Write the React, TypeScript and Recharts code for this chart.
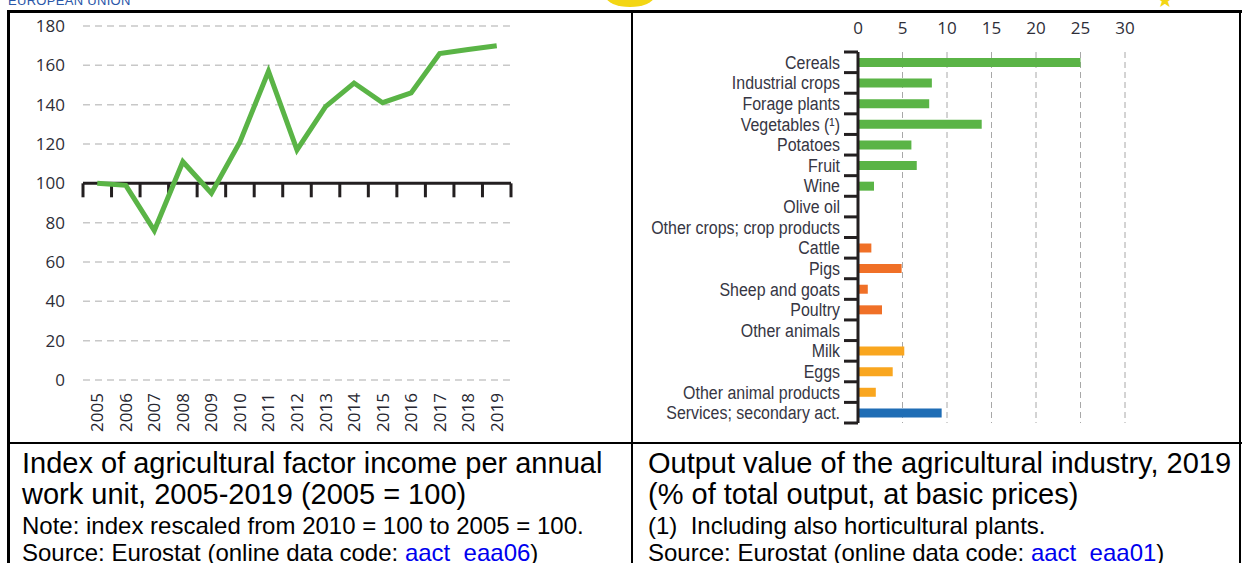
import { LineChart, Line, XAxis, YAxis, CartesianGrid, ReferenceLine, BarChart, Bar, Cell } from 'recharts'

// left chart: index of agricultural factor income (2005 = 100)
const years = [2005, 2006, 2007, 2008, 2009, 2010, 2011, 2012, 2013, 2014, 2015, 2016, 2017, 2018, 2019]
const incomeIndex = [100, 99, 76, 111, 95, 121, 157, 117, 139, 151, 141, 146, 166, 168, 170]
const indexTicks = [0, 20, 40, 60, 80, 100, 120, 140, 160, 180]

// right chart: output value of the agricultural industry, 2019 (% of total)
const products = [
  'Cereals',
  'Industrial crops',
  'Forage plants',
  'Vegetables (¹)',
  'Potatoes',
  'Fruit',
  'Wine',
  'Olive oil',
  'Other crops; crop products',
  'Cattle',
  'Pigs',
  'Sheep and goats',
  'Poultry',
  'Other animals',
  'Milk',
  'Eggs',
  'Other animal products',
  'Services; secondary act.',
]
const shares = [25.0, 8.3, 8.0, 13.9, 6.0, 6.6, 1.8, 0, 0, 1.5, 4.9, 1.1, 2.7, 0, 5.2, 3.9, 2.0, 9.4]
const groups = [
  'crops', 'crops', 'crops', 'crops', 'crops', 'crops', 'crops', 'crops', 'crops',
  'animals', 'animals', 'animals', 'animals', 'animals',
  'animalProducts', 'animalProducts', 'animalProducts',
  'services',
]
const shareTicks = [0, 5, 10, 15, 20, 25, 30]

const groupColors: Record<string, string> = {
  crops: '#5ab446',
  animals: '#f07027',
  animalProducts: '#f9a61f',
  services: '#1f6db5',
}

const AXIS_DARK = '#231f20'
const TEXT = '#363643'

const incomeData = years.map((year, i) => ({ year, value: incomeIndex[i] }))
// tick marks sit between the years
const yearBounds = [years[0] - 0.5, ...years.map(y => y + 0.5)]

const shareData = products.map((name, i) => ({ name, share: shares[i], group: groups[i] }))

const YearTick = (props: any) => {
  const { x, y, payload } = props
  const ty = y + 5
  return (
    <text
      x={x + 6}
      y={ty}
      transform={`rotate(-90 ${x + 6} ${ty})`}
      textAnchor="end"
      fontSize={17}
      fontFamily="'Open Sans', sans-serif"
      fill="#262630"
    >
      {payload.value}
    </text>
  )
}

const ProductTick = (props: any) => {
  const { x, y, payload, index, height } = props
  const half = payload.offset ?? height / products.length / 2
  return (
    <g>
      <line x1={x - 14} x2={x} y1={y - half} y2={y - half} stroke={AXIS_DARK} strokeWidth={3} />
      {index === products.length - 1 && (
        <line x1={x - 14} x2={x} y1={y + half} y2={y + half} stroke={AXIS_DARK} strokeWidth={3} />
      )}
      {/* narrow lettering, like the condensed face of the original */}
      <text
        transform={`translate(${x - 18} ${y + 6.5}) scale(0.84 1)`}
        textAnchor="end"
        fontSize={19}
        fontFamily="'Liberation Sans', Arial, sans-serif"
        fill={TEXT}
      >
        {payload.value}
      </text>
    </g>
  )
}

function IncomeChart() {
  return (
    <LineChart
      width={520}
      height={440}
      data={incomeData}
      margin={{ top: 26, right: 9, left: 0, bottom: 0 }}
    >
      <CartesianGrid vertical={false} stroke="#c8c8c8" strokeDasharray="7 5" strokeWidth={1.5} />
      <XAxis
        dataKey="year"
        type="number"
        domain={[2004.5, 2019.5]}
        ticks={years}
        interval={0}
        height={60}
        axisLine={false}
        tickLine={false}
        tick={<YearTick />}
      />
      <YAxis
        domain={[0, 180]}
        ticks={indexTicks}
        width={83}
        axisLine={false}
        tickLine={false}
        tickSize={0}
        tickMargin={18}
        tick={{ fontSize: 17, fill: '#2e2e38', fontFamily: "'Open Sans', sans-serif" }}
      />
      <ReferenceLine y={100} stroke={AXIS_DARK} strokeWidth={3} />
      {yearBounds.map(b => (
        <ReferenceLine
          key={b}
          segment={[{ x: b, y: 100 }, { x: b, y: 92.9 }]}
          stroke={AXIS_DARK}
          strokeWidth={3}
        />
      ))}
      <Line
        type="linear"
        dataKey="value"
        stroke="#5ab446"
        strokeWidth={5}
        dot={false}
        activeDot={false}
        isAnimationActive={false}
      />
    </LineChart>
  )
}

function OutputChart() {
  return (
    <BarChart
      layout="vertical"
      width={610}
      height={443}
      data={shareData}
      barSize={9}
      margin={{ top: 12, right: 117, left: 0, bottom: 20 }}
    >
      <CartesianGrid horizontal={false} stroke="#a8a8a8" strokeDasharray="6 4" />
      <XAxis
        type="number"
        orientation="top"
        domain={[0, 30]}
        ticks={shareTicks}
        height={40}
        axisLine={false}
        tickLine={false}
        tickSize={0}
        tickMargin={18}
        tick={{ fontSize: 17, fill: '#2e2e38', fontFamily: "'Open Sans', sans-serif" }}
      />
      <YAxis
        type="category"
        dataKey="name"
        width={226}
        interval={0}
        axisLine={{ stroke: AXIS_DARK, strokeWidth: 3 }}
        tickLine={false}
        tickSize={0}
        tickMargin={0}
        tick={<ProductTick />}
      />
      <Bar dataKey="share" isAnimationActive={false}>
        {shareData.map((d, i) => (
          <Cell key={i} fill={groupColors[d.group]} />
        ))}
      </Bar>
    </BarChart>
  )
}

const caption = { position: 'absolute' as const, fontFamily: "'Liberation Sans', Arial, sans-serif", color: '#000', whiteSpace: 'nowrap' as const }
const link = { color: '#0000ee' }

export default function App() {
  return (
    <div style={{ position: 'absolute', left: 0, top: 0, width: 1242, height: 563, overflow: 'hidden', background: '#fff' }}>
      {/* page header remnants */}
      <div style={{ position: 'absolute', left: 8, top: -7, fontFamily: "'Liberation Sans', Arial, sans-serif", fontSize: 13, color: '#2a56a8', letterSpacing: 0.3 }}>
        EUROPEAN UNION
      </div>
      <div style={{ position: 'absolute', left: 606, top: -14, width: 48, height: 21, borderRadius: '50%', background: '#f3d614' }} />
      <div style={{ position: 'absolute', left: 1156, top: -12, fontSize: 20, color: '#f3d614' }}>★</div>

      {/* table borders */}
      <div style={{ position: 'absolute', left: 7, top: 10, width: 1235, height: 2.5, background: '#000' }} />
      <div style={{ position: 'absolute', left: 7, top: 10, width: 3, height: 553, background: '#000' }} />
      <div style={{ position: 'absolute', left: 631, top: 10, width: 2, height: 553, background: '#000' }} />
      <div style={{ position: 'absolute', left: 1239, top: 10, width: 2, height: 553, background: '#000' }} />
      <div style={{ position: 'absolute', left: 7, top: 442, width: 1235, height: 2, background: '#000' }} />

      <div style={{ position: 'absolute', left: 0, top: 0 }}>
        <IncomeChart />
      </div>
      <div style={{ position: 'absolute', left: 632, top: 0 }}>
        <OutputChart />
      </div>

      {/* captions */}
      <div style={{ ...caption, left: 22, top: 448, fontSize: 29, lineHeight: '31px' }}>
        Index of agricultural factor income per annual<br />work unit, 2005-2019 (2005 = 100)
      </div>
      <div style={{ ...caption, left: 22, top: 512, fontSize: 24, lineHeight: '27px' }}>
        Note: index rescaled from 2010 = 100 to 2005 = 100.<br />
        Source: Eurostat (online data code: <span style={link}>aact_eaa06</span>)
      </div>
      <div style={{ ...caption, left: 648, top: 448, fontSize: 29, lineHeight: '31px' }}>
        Output value of the agricultural industry, 2019<br />(% of total output, at basic prices)
      </div>
      <div style={{ ...caption, left: 648, top: 512, fontSize: 24, lineHeight: '27px' }}>
        (1)&nbsp; Including also horticultural plants.<br />
        Source: Eurostat (online data code: <span style={link}>aact_eaa01</span>)
      </div>
    </div>
  )
}
